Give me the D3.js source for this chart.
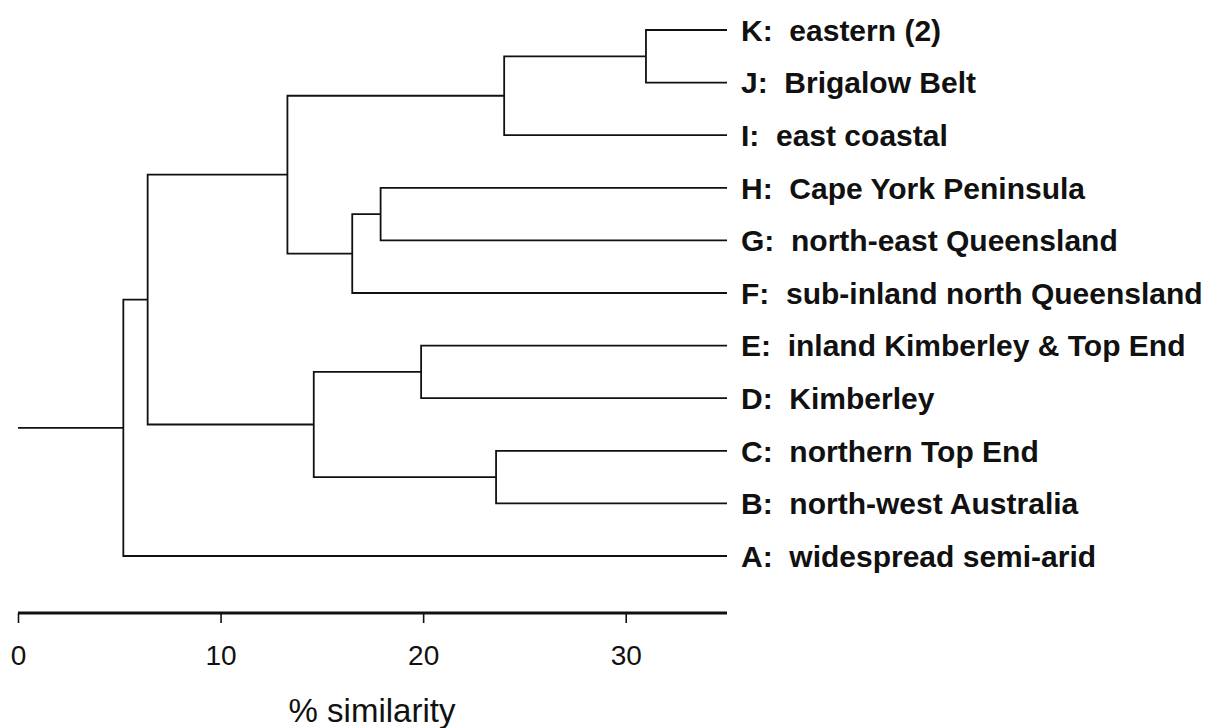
<!DOCTYPE html>
<html>
<head>
<meta charset="utf-8">
<script src="https://cdn.jsdelivr.net/npm/d3@7"></script>
<style>
  body { margin: 0; background: #fff; }
  text { font-family: "Liberation Sans", Arial, sans-serif; fill: #111; }
</style>
</head>
<body>
<div id="svg-area"></div>
<script>
// data: leaves top to bottom
const leafIds = ["K", "J", "I", "H", "G", "F", "E", "D", "C", "B", "A"];
const leafNames = ["eastern (2)", "Brigalow Belt", "east coastal", "Cape York Peninsula",
  "north-east Queensland", "sub-inland north Queensland", "inland Kimberley & Top End",
  "Kimberley", "northern Top End", "north-west Australia", "widespread semi-arid"];

// merges (hclust style): the two joined groups and the % similarity at the join
const mergeLeft = ["K", "KJ", "H", "HG", "KJI", "E", "C", "ED", "KJIHGF", "KJIHGFEDCB"];
const mergeRight = ["J", "I", "G", "F", "HGF", "D", "B", "CB", "EDCB", "A"];
const mergeSimilarity = [31.0, 24.0, 17.9, 16.5, 13.3, 19.9, 23.6, 14.6, 6.4, 5.2];

// axis
const axisTicks = [0, 10, 20, 30];
const axisMax = 35;
const axisTitle = "% similarity";

// svg container
const svgWidth = 1205;
const svgHeight = 728;

const svg = d3.select("#svg-area").append("svg")
    .attr("width", svgWidth)
    .attr("height", svgHeight);

// scales
const xScale = d3.scaleLinear()
    .domain([0, axisMax])
    .range([18, 727]);

const yScale = d3.scalePoint()
    .domain(leafIds)
    .range([30, 556]);

// node positions: leaves sit at the right end of the axis
const nodes = {};
leafIds.forEach(function(id) {
    nodes[id] = { x: axisMax, y: yScale(id) };
});

const tree = svg.append("g")
    .attr("fill", "none")
    .attr("stroke", "#111")
    .attr("stroke-width", 1.8);

let rootId = null;
mergeLeft.forEach(function(left, i) {
    const right = mergeRight[i];
    const a = nodes[left];
    const b = nodes[right];
    const s = mergeSimilarity[i];
    const id = left + right;
    nodes[id] = { x: s, y: (a.y + b.y) / 2 };
    rootId = id;

    // elbow: child a -> join -> child b
    tree.append("path")
        .attr("d", `M${xScale(a.x)},${a.y}H${xScale(s)}V${b.y}H${xScale(b.x)}`);
});

// root stub from 0
tree.append("path")
    .attr("d", `M${xScale(0)},${nodes[rootId].y}H${xScale(nodes[rootId].x)}`);

// leaf labels
svg.append("g").selectAll("text")
    .data(leafIds)
    .enter()
    .append("text")
    .attr("x", 741)
    .attr("y", function(d) { return yScale(d); })
    .attr("dy", "0.36em")
    .attr("font-size", 30)
    .attr("font-weight", "bold")
    .style("white-space", "pre")
    .text(function(d, i) { return d + ":  " + leafNames[i]; });

// x axis
const xAxis = d3.axisBottom(xScale)
    .tickValues(axisTicks)
    .tickSize(10)
    .tickSizeOuter(0)
    .tickPadding(22);

const axisGroup = svg.append("g")
    .attr("transform", "translate(0, 613)")
    .call(xAxis);

axisGroup.select(".domain")
    .attr("stroke", "#111")
    .attr("stroke-width", 3)
    .attr("d", `M${xScale(0)},0H${xScale(axisMax)}`);

axisGroup.selectAll(".tick line")
    .attr("stroke", "#111")
    .attr("stroke-width", 1.6);

axisGroup.selectAll(".tick text")
    .attr("font-family", "Liberation Sans, Arial, sans-serif")
    .attr("font-size", 28)
    .attr("fill", "#111");

svg.append("text")
    .attr("x", 372)
    .attr("y", 722)
    .attr("text-anchor", "middle")
    .attr("font-size", 33)
    .text(axisTitle);
</script>
</body>
</html>
